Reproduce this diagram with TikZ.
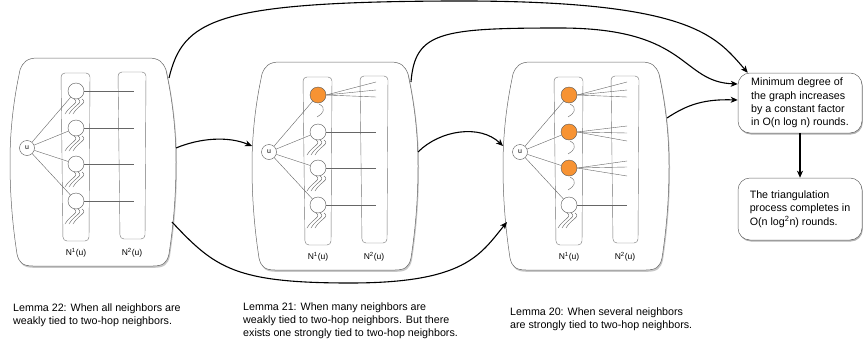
\documentclass[tikz,border=0pt]{standalone}
\usepackage{fontspec}
\setmainfont{Liberation Sans}
\usetikzlibrary{arrows.meta,shadows}
\definecolor{strongorange}{RGB}{247,147,51}

\begin{document}
\begin{tikzpicture}[x=1pt,y=-1pt]
    \tikzset{
        frame/.style={draw=black!60, line width=0.5pt, fill=white},
        column/.style={draw=black!55, line width=0.4pt, rounded corners=4pt},
        vertex/.style={circle, draw=black!65, line width=0.4pt, fill=white, minimum size=16pt, inner sep=0pt},
        strong/.style={vertex, fill=strongorange},
        tie/.style={black!60, line width=0.4pt},
        flow/.style={-{Stealth[length=7pt,width=6pt,inset=2pt]}, line width=1.1pt, black},
        result/.style={draw=black!60, line width=0.5pt, fill=white, rounded corners=12pt, align=left,
            minimum width=124pt, inner sep=0pt, font=\fontsize{10.7}{13.3}\selectfont,
            drop shadow={shadow xshift=0.8pt, shadow yshift=-1.5pt, opacity=1, fill=black!30}},
        lemma/.style={anchor=north west, align=left, inner sep=0pt, font=\fontsize{10.7}{13}\selectfont},
        pics/barrel/.style={code={
            % outline
            \draw[frame, drop shadow={shadow xshift=1pt, shadow yshift=-1.8pt, opacity=1, fill=black!22}]
                (28,0) -- (138,0) .. controls (149,0) and (153,4) .. (156,12)
                .. controls (162,40) and (166,70) .. (166,104)
                .. controls (166,140) and (163,170) .. (159,196)
                .. controls (157,205) and (153,208) .. (143,208)
                -- (23,208) .. controls (13,208) and (9,205) .. (7,196)
                .. controls (3,170) and (0,140) .. (0,104)
                .. controls (0,70) and (4,40) .. (10,12)
                .. controls (13,4) and (17,0) .. (28,0) -- cycle;
            % neighbourhoods
            \draw[column] (51,15) -- (80,15) -- (79,183) -- (53,183) -- cycle;
            \draw[column] (108,14) -- (136,14) -- (135,181) -- (110,181) -- cycle;
            \node[font=\fontsize{8.5}{10}\selectfont] (-n1) at (66,195) {N\textsuperscript{1}(u)};
            \node[font=\fontsize{8.5}{10}\selectfont] (-n2) at (122,195) {N\textsuperscript{2}(u)};
            % vertices
            \node[vertex, minimum size=15pt, font=\fontsize{7}{8}\selectfont] (-u) at (17,90) {u};
            \foreach \i/\y/\da/\db/\dc in {1/33/-13/-5/2, 2/70/-6/1/9, 3/106/-7/-1/8, 4/143/0/0/0} {
                \ifnum\i>#1
                    \node[vertex] (-c\i) at (66,\y) {};
                    \draw[tie] (-c\i.east) -- (124,\y);
                    \foreach \k in {-4,0,4}
                        \draw[tie] (68+\k,\y+8) .. controls (74+\k,\y+12) and (64+\k,\y+14) .. (59+\k,\y+23);
                \else
                    \node[strong] (-c\i) at (66,\y) {};
                    \foreach \dd in {\da,\db,\dc}
                        \draw[tie] (-c\i.east) -- (124,\y+\dd);
                    \draw[tie] (67,\y+9) .. controls (75,\y+13) and (71,\y+19) .. (65,\y+22);
                \fi
                \draw[tie] (-u) -- (-c\i);
            }
            % attachment points
            \coordinate (-ne) at (159,20);
            \coordinate (-ene) at (164,56);
            \coordinate (-e) at (166,90);
            \coordinate (-se) at (162,164);
            \coordinate (-w) at (0,84);
            \coordinate (-sw) at (4,160);
        }}
    }
    \useasboundingbox (0,0) rectangle (863,343);

    % Lemma panels
    \pic (pa) at (10,58) {barrel=0};
    \pic (pb) at (252,62) {barrel=1};
    \pic (pc) at (503,62) {barrel=3};

    % Results
    \node[result, minimum height=60pt] (degree) at (800,103)
        {Minimum degree of\\the graph increases\\by a constant factor\\in O(n log n) rounds.};
    \node[result, minimum height=62pt] (complete) at (800,209)
        {The triangulation\\process completes in\\O(n log\textsuperscript{2}n) rounds.};

    % Captions
    \node[lemma] (lem22) at (13,304) {Lemma 22: When all neighbors are\\weakly tied to two-hop neighbors.};
    \node[lemma] (lem21) at (243,303) {Lemma 21: When many neighbors are\\weakly tied to two-hop neighbors. But there\\exists one strongly tied to two-hop neighbors.};
    \node[lemma] (lem20) at (510,308) {Lemma 20: When several neighbors\\are strongly tied to two-hop neighbors.};

    % Flows
    \draw[flow] (pa-ne) .. controls (183,20) and (215,2) .. (450,1)
        .. controls (690,0) and (715,35) .. ([xshift=10pt]degree.north west);
    \draw[flow] (pb-ne) .. controls (415,32) and (440,28) .. (560,28)
        .. controls (690,28) and (680,82) .. ([yshift=19pt]degree.west);
    \draw[flow] (pc-ene) .. controls (688,104) and (705,99) .. ([yshift=3pt]degree.west);
    \draw[flow] (pa-e) .. controls (200,138) and (228,136) .. (pb-w);
    \draw[flow] (pb-e) .. controls (440,130) and (480,124) .. (pc-w);
    \draw[flow] (pa-se) .. controls (215,268) and (235,283) .. (350,283)
        .. controls (465,283) and (480,255) .. (pc-sw);
    \draw[flow] (degree) -- (complete);

\end{tikzpicture}
\end{document}
